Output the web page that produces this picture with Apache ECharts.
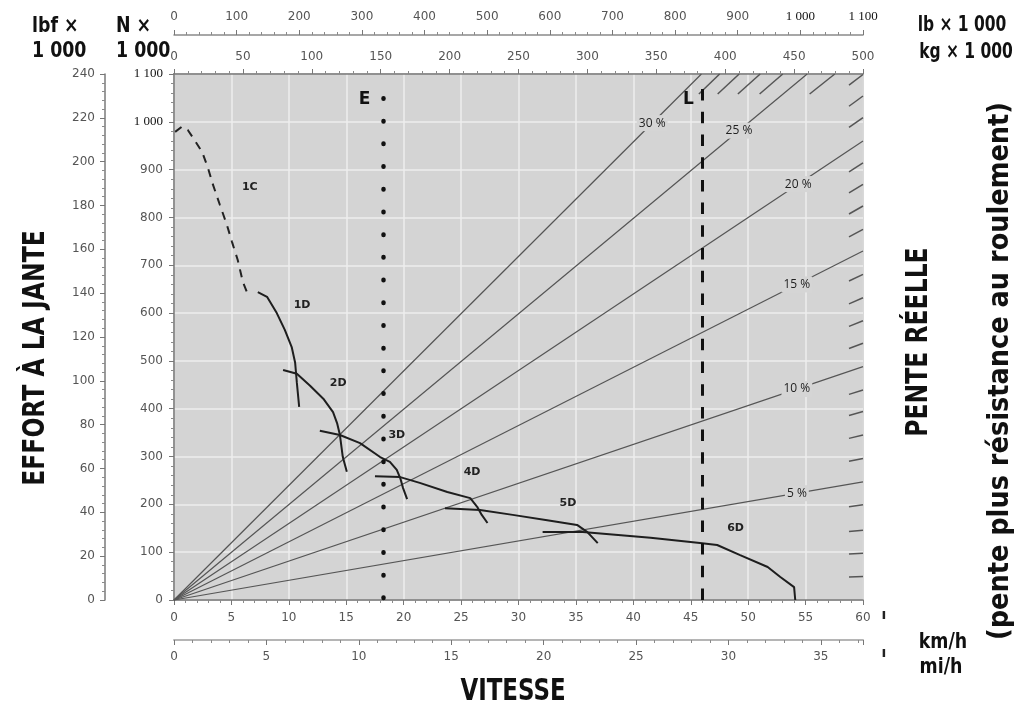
<!DOCTYPE html>
<html>
<head>
<meta charset="utf-8">
<script src="https://cdn.jsdelivr.net/npm/echarts@6/dist/echarts.min.js"></script>
<style>
html,body{margin:0;padding:0;background:#ffffff;}
#chart{width:1021px;height:728px;}
</style>
</head>
<body>
<div id="chart"></div>
<script>
// ---------- data ----------
// rimpull curves: [speed km/h, rimpull kN]
const curve1C = [[0.1,979],[0.7,990],[1.2,983],[1.65,967],[2.45,937],[2.95,904],[3.4,868],[4.0,826],[4.6,785],[5.05,749],[5.55,711],[6.0,665],[6.45,638]];
const curve1D = [[7.3,644],[8.1,634],[8.95,600],[9.65,565],[10.25,529],[10.55,496],[10.7,454],[10.9,404]];
const curve2D = [[9.5,481],[10.7,473],[11.85,448],[13.0,421],[13.85,393],[14.2,370],[14.45,345],[14.7,299],[15.05,268]];
const curve3D = [[12.7,354],[14.45,345],[16.2,328],[17.95,299],[18.8,289],[19.4,272],[19.7,255],[19.95,234],[20.3,211]];
const curve4D = [[17.5,259],[19.7,257],[21.4,245],[23.8,226],[25.8,213],[26.4,195],[26.8,178],[27.3,161]];
const curve5D = [[23.6,192],[26.65,188],[29.5,178],[32.5,167],[35.1,157],[36.0,142],[36.9,119]];
const curve6D = [[32.1,142],[35.6,142],[41.5,130],[45.8,119],[47.3,115],[49.3,94],[51.7,69],[52.8,48],[54.0,27],[54.1,0]];
const gearNames = ['1C','1D','2D','3D','4D','5D','6D'];

// grade (total resistance) lines: rimpull (kN) reached at 500 t gross weight
const gradeNames = ['5 %','10 %','15 %','20 %','25 %','30 %'];
const gradeEnds  = [247, 488, 730, 960, 1197, 1437];
// intermediate 1 % hatch marks: rimpull (kN) at 500 t
const hatchEnds = [49, 98, 146, 199, 296, 345, 394, 439, 537, 584, 632, 681, 775, 824, 869, 914, 1009, 1054, 1099, 1147, 1245, 1293, 1341, 1389];

// reference speeds (km/h)
const speedE = 18.2;
const speedL = 46.0;

// axis ranges
const kmhMax = 60, mphMax = 37.28, kNMax = 1100, klbfMax = 240, tMax = 500, klbMax = 1100;

// ---------- layout (annotation placement) ----------
const gradeLabelAtT = [452, 452, 452, 453, 410, 347];
const gearLabelAt = [[6.6,864],[11.15,617],[14.3,454],[19.4,345],[25.96,268],[34.3,203],[48.9,151]];

const curves = [curve1C, curve1D, curve2D, curve3D, curve4D, curve5D, curve6D];

const tickFont = 'DejaVu Sans';
const boldNarrow = "'Liberation Sans Narrow','DejaVu Sans Condensed','DejaVu Sans',sans-serif";
const serifRich = {s:{fontFamily:"'Liberation Serif','DejaVu Serif',serif", fontSize:13, color:'#111'}};
function serifBig(v){ if (v >= 1000) { return '{s|' + (v===1000?'1 000':'1 100') + '}'; } return String(v); }

const axisLineStyle = {color:'#7a7a7a', width:1.5};
function baseAxis(extra){
  return Object.assign({
    type:'value',
    axisLine:{show:true, onZero:false, lineStyle:axisLineStyle},
    axisTick:{show:true, length:5, lineStyle:{color:'#777', width:1}},
    minorTick:{show:true, splitNumber:5, length:3, lineStyle:{color:'#8a8a8a', width:1}},
    axisLabel:{color:'#555', fontSize:12, fontFamily:tickFont},
    splitLine:{show:false},
    minorSplitLine:{show:false}
  }, extra);
}

const xAxes = [
  baseAxis({position:'bottom', min:0, max:kmhMax, interval:5,
    axisLabel:{color:'#555', fontSize:12, fontFamily:tickFont, margin:12},
    splitLine:{show:true, lineStyle:{color:'#eeeeee', width:1.5}}}),
  baseAxis({position:'bottom', offset:40, min:0, max:mphMax, interval:5,
    axisLine:{show:true, onZero:false, lineStyle:{color:'#b5b5b5', width:2}},
    axisLabel:{color:'#555', fontSize:12, fontFamily:tickFont, margin:11, showMaxLabel:false}}),
  baseAxis({position:'top', min:0, max:tMax, interval:50,
    axisLabel:{color:'#555', fontSize:12, fontFamily:tickFont, margin:11}}),
  baseAxis({position:'top', offset:39, min:0, max:klbMax, interval:100,
    axisLine:{show:true, onZero:false, lineStyle:{color:'#8a8a8a', width:1.5}},
    axisLabel:{color:'#555', fontSize:12, fontFamily:tickFont, margin:12, formatter:serifBig, rich:serifRich}})
];
const yAxes = [
  baseAxis({position:'left', min:0, max:kNMax, interval:100,
    axisLabel:{color:'#555', fontSize:12, fontFamily:tickFont, margin:11, formatter:serifBig, rich:serifRich},
    splitLine:{show:true, lineStyle:{color:'#eeeeee', width:1.5}}}),
  baseAxis({position:'left', offset:69, min:0, max:klbfMax, interval:20,
    axisLabel:{color:'#555', fontSize:12, fontFamily:tickFont, margin:10}})
];

function exitPoint(params, api, endVal){
  const cs = params.coordSys;
  const o = api.coord([0,0]);
  let e = api.coord([tMax, endVal]);
  let top = false;
  if (e[1] < cs.y) {
    const t = (o[1]-cs.y)/(o[1]-e[1]);
    e = [o[0] + t*(e[0]-o[0]), cs.y];
    top = true;
  }
  return {o, e, top};
}

const gradeSeries = {
  type:'custom', name:'grades', xAxisIndex:2, yAxisIndex:0, z:2, silent:true,
  data: gradeEnds.map((v,i)=>[v,i]),
  renderItem: function(params, api){
    const i = params.dataIndex;
    const p = exitPoint(params, api, api.value(0));
    const lx = api.coord([gradeLabelAtT[i], 0])[0];
    const ly = p.o[1] + (lx-p.o[0])*(p.e[1]-p.o[1])/(p.e[0]-p.o[0]);
    return {type:'group', children:[
      {type:'line', shape:{x1:p.o[0], y1:p.o[1], x2:p.e[0], y2:p.e[1]}, style:{stroke:'#555', lineWidth:1.2}},
      {type:'text', x:lx, y:ly, style:{text:gradeNames[i], fill:'#222', font:"12px 'Open Sans', sans-serif",
        align:'center', verticalAlign:'middle', backgroundColor:'#d5d5d5', padding:[2,2]}}
    ]};
  }
};

const hatchSeries = {
  type:'custom', name:'hatch', xAxisIndex:2, yAxisIndex:0, z:2, silent:true,
  data: hatchEnds.map((v,i)=>[v,i]),
  renderItem: function(params, api){
    const p = exitPoint(params, api, api.value(0));
    const dx = p.e[0]-p.o[0], dy = p.e[1]-p.o[1];
    let k = p.top ? 20/Math.abs(dy) : 14/Math.abs(dx);
    return {type:'line', shape:{x1:p.e[0]-dx*k, y1:p.e[1]-dy*k, x2:p.e[0], y2:p.e[1]},
      style:{stroke:'#555', lineWidth:1.5}};
  }
};

const curveSeries = curves.map((c, i) => ({
  type:'line', name:gearNames[i], xAxisIndex:0, yAxisIndex:0, z:4, silent:true,
  data:c, showSymbol:false, symbol:'none',
  lineStyle: i===0 ? {color:'#222', width:2, type:[8,7]} : {color:'#1e1e1e', width:2},
  markPoint:{silent:true, symbol:'circle', symbolSize:0,
    data:[{coord:gearLabelAt[i], value:gearNames[i]}],
    label:{show:true, position:'inside', formatter:gearNames[i], color:'#222', fontFamily:tickFont, fontWeight:'bold', fontSize:11}},
  animation:false
}));

// reference lines E and L on the 6D series
curveSeries[6].markLine = {
  silent:true, symbol:['none','none'], animation:false,
  label:{show:false},
  data:[
    [{coord:[speedE,4], lineStyle:{color:'#111', width:4.5, type:[0.5,22.2], cap:'round'}},{coord:[speedE,1050]}],
    [{coord:[speedL,0], lineStyle:{color:'#111', width:3, type:[11.5,11.2]}},{coord:[speedL,1069]}]
  ]
};
curveSeries[5].markPoint.data.push({coord:[16.6,1046], value:'E', label:{formatter:'E', fontSize:17, color:'#111', fontFamily:tickFont, fontWeight:'bold'}});
curveSeries[5].markPoint.data.push({coord:[44.8,1046], value:'L', label:{formatter:'L', fontSize:17, color:'#111', fontFamily:tickFont, fontWeight:'bold'}});
curveSeries[5].markPoint.label.formatter = function(p){ return p.name || p.value; };
curveSeries[5].markPoint.data[0].value = '5D';

function T(text, x, y, size, opts, align, sx){
  return Object.assign({type:'text', x:x, y:y, silent:true, scaleX:(sx||1),
    style:{text:text, fill:'#111', font:'bold ' + size + 'px ' + boldNarrow, align:(align||'center'), verticalAlign:'middle'}}, opts||{});
}

const option = {
  animation:false,
  backgroundColor:'#ffffff',
  grid:{left:174, top:74, width:689, height:526, show:true, backgroundColor:'#d4d4d4', borderColor:'#7a7a7a', borderWidth:1.5, containLabel:false, outerBoundsMode:'none'},
  xAxis:xAxes,
  yAxis:yAxes,
  series:[gradeSeries, hatchSeries].concat(curveSeries),
  graphic:[
    T('lbf ×', 32, 27, 21, null, 'left', 0.92),
    T('1 000', 32, 52, 21, null, 'left', 0.92),
    T('N ×', 116, 27, 21, null, 'left', 0.92),
    T('1 000', 116, 52, 21, null, 'left', 0.92),
    T('lb × 1 000', 962, 26, 21, null, 'center', 0.82),
    T('kg × 1 000', 966, 53, 21, null, 'center', 0.82),
    T('EFFORT À LA JANTE', 36, 358, 30, {rotation:Math.PI/2}, 'center', 0.87),
    T('PENTE RÉELLE', 919, 342, 30, {rotation:Math.PI/2}, 'center', 0.87),
    T('(pente plus résistance au roulement)', 1001, 371, 28.5, {rotation:Math.PI/2}, 'center', 1),
    T('VITESSE', 513, 692, 30, null, 'center', 0.85),
    T('km/h', 943, 643, 21, null, 'center', 0.92),
    T('mi/h', 941, 668, 21, null, 'center', 0.92),
    {type:'text', x:884, y:615, silent:true, style:{text:'ı', fill:'#222', font:'bold 14px DejaVu Sans', align:'center', verticalAlign:'middle'}},
    {type:'text', x:884, y:653, silent:true, style:{text:'ı', fill:'#222', font:'bold 14px DejaVu Sans', align:'center', verticalAlign:'middle'}}
  ]
};

const chart = echarts.init(document.getElementById('chart'), null, {renderer:'canvas'});
chart.setOption(option);
</script>
</body>
</html>
